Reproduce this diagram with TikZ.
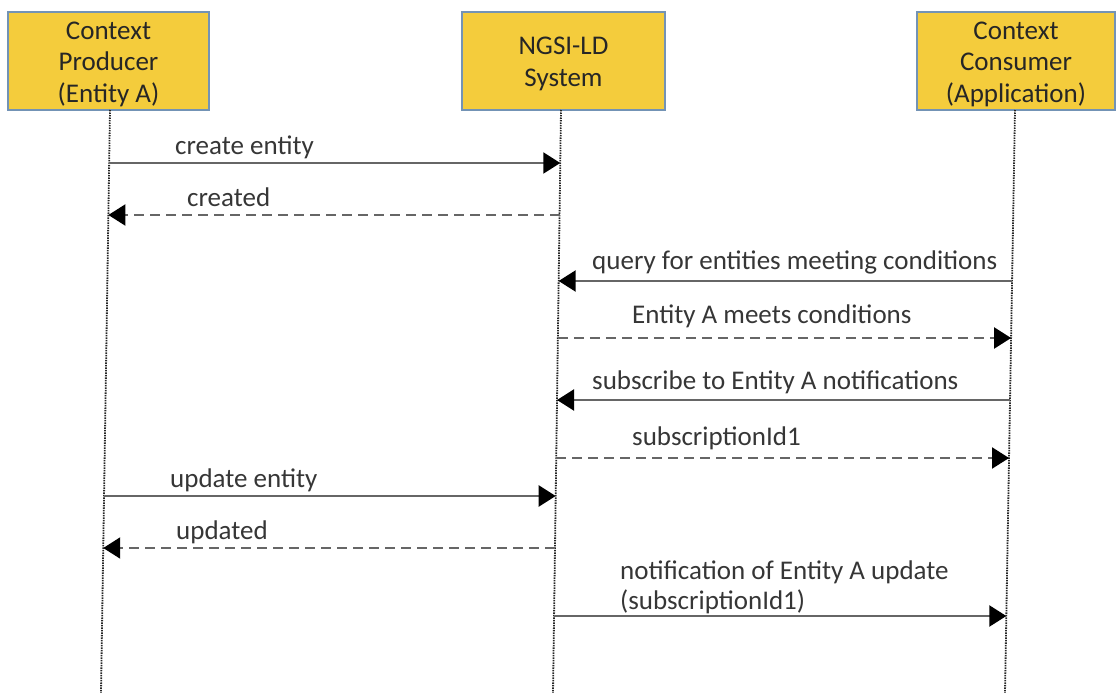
\documentclass[tikz,border=0pt]{standalone}
\usepackage{fontspec}
\setmainfont{Carlito}
\usetikzlibrary{arrows.meta,calc}
\definecolor{boxfill}{HTML}{F4CC3C}
\definecolor{boxedge}{HTML}{7393B5}
\definecolor{msgline}{HTML}{666666}
\definecolor{msgtext}{HTML}{363636}
\tikzset{
  actor/.style={draw=boxedge, line width=2.4pt, fill=boxfill, minimum height=98pt, inner sep=0pt},
  actortext/.style={align=center, font=\fontsize{27}{31.5}\selectfont, text=black!85, inner sep=0pt},
  lifeline/.style={draw=black!85, line width=1.8pt, dash pattern=on 1.4pt off 1.1pt},
  tip/.style={-{Triangle[length=17pt,width=21pt,black]}},
  call/.style={tip, draw=msgline, line width=2.2pt},
  reply/.style={call, dash pattern=on 10pt off 6pt},
  lbl/.style={anchor=mid west, inner sep=0pt, text=msgtext, font=\fontsize{27}{30}\selectfont}
}
\begin{document}
\begin{tikzpicture}[x=1pt,y=-1pt]
\useasboundingbox (0,0) rectangle (1116,693);

% participants
\node[actor, minimum width=201pt] (prod) at (108.5,61) {};
\node[actor, minimum width=203pt] (ngsi) at (563.5,61) {};
\node[actor, minimum width=198pt] (cons) at (1016,61) {};
\node[actortext] (prodname) at ($(prod.center)+(0,3)$) {Context\\Producer\\(Entity A)};
\node[actortext] (ngsiname) at ($(ngsi.center)+(0,3)$) {NGSI-LD\\System};
\node[actortext] (consname) at ($(cons.center)+(0,3)$) {Context\\Consumer\\(Application)};

% lifelines
\coordinate (prodT) at (110,110);  \coordinate (prodB) at (101,693);
\coordinate (ngsiT) at (561,110);  \coordinate (ngsiB) at (553,693);
\coordinate (consT) at (1015,110); \coordinate (consB) at (1005,693);
\draw[lifeline] (prodT) -- (prodB);
\draw[lifeline] (ngsiT) -- (ngsiB);
\draw[lifeline] (consT) -- (consB);

% points where each message meets a lifeline
\foreach \n/\y in {1/163,2/215,3/281,4/338,5/400,6/458,7/496,8/548,9/616}{
  \coordinate (p\n) at ($(prodT)!{(\y-110)/583}!(prodB)$);
  \coordinate (s\n) at ($(ngsiT)!{(\y-110)/583}!(ngsiB)$);
  \coordinate (c\n) at ($(consT)!{(\y-110)/583}!(consB)$);
}

% messages
\draw[call]  (p1) -- (s1);
\draw[reply] (s2) -- (p2);
\draw[call]  (c3) -- (s3);
\draw[reply] (s4) -- (c4);
\draw[call]  (c5) -- (s5);
\draw[reply] (s6) -- (c6);
\draw[call]  (p7) -- (s7);
\draw[reply] (s8) -- (p8);
\draw[call]  (s9) -- (c9);

% message labels
\node[lbl] (l1) at (175,152) {create entity};
\node[lbl] (l2) at (187,204) {created};
\node[lbl] (l3) at (592,267) {query for entities meeting conditions};
\node[lbl] (l4) at (632,321) {Entity A meets conditions};
\node[lbl] (l5) at (592,387) {subscribe to Entity A notifications};
\node[lbl] (l6) at (632,443) {subscriptionId1};
\node[lbl] (l7) at (170,485) {update entity};
\node[lbl] (l8) at (176,537) {updated};
\node[lbl] (l9a) at (620,577) {notification of Entity A update};
\node[lbl] (l9b) at (620,607) {(subscriptionId1)};
\end{tikzpicture}
\end{document}
